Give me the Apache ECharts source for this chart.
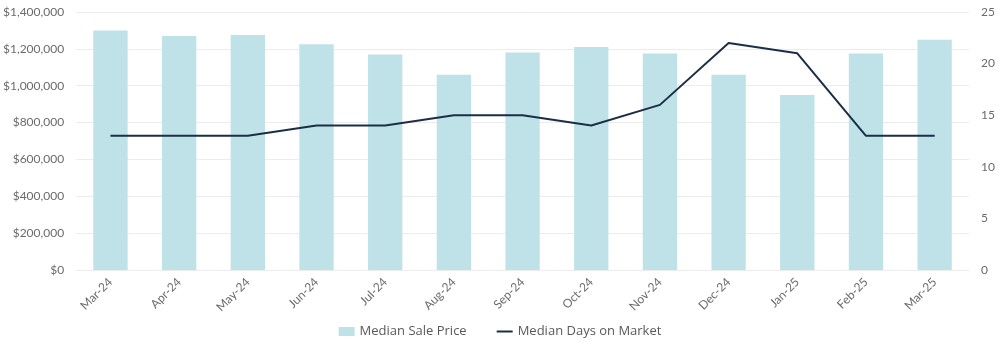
<!DOCTYPE html>
<html>
<head>
<meta charset="utf-8">
<script src="https://cdn.jsdelivr.net/npm/echarts@6/dist/echarts.min.js"></script>
<style>html,body{margin:0;padding:0;background:#fff}#c{width:1000px;height:349px}</style>
</head>
<body>
<div id="c"></div>
<script>
const categories = ['Mar-24','Apr-24','May-24','Jun-24','Jul-24','Aug-24','Sep-24','Oct-24','Nov-24','Dec-24','Jan-25','Feb-25','Mar-25'];
const medianSalePrice = [1300000,1270000,1275000,1225000,1170000,1060000,1180000,1210000,1175000,1060000,950000,1175000,1250000];
const medianDaysOnMarket = [13,13,13,14,14,15,15,14,16,22,21,13,13];

const chart = echarts.init(document.getElementById('c'));
const lblColor = '#6b6b6b';
chart.setOption({
  animation: false,
  textStyle: { fontFamily: 'Lato' },
  grid: { left: 76, right: 31, top: 12, bottom: 79 },
  legend: {
    bottom: 6, left: 'center', itemGap: 30, itemWidth: 16, itemHeight: 9,
    symbolKeepAspect: true,
    textStyle: { color: '#595959', fontSize: 13, fontFamily: 'Open Sans' },
    data: [
      { name: 'Median Sale Price', icon: 'rect' },
      { name: 'Median Days on Market', icon: 'path://M0,0h16v2h-16z' }
    ]
  },
  xAxis: {
    type: 'category', data: categories,
    axisLine: { show: true, lineStyle: { color: '#ececec' } },
    axisTick: { show: false },
    axisLabel: { rotate: 45, color: lblColor, fontSize: 12, margin: 10 }
  },
  yAxis: [
    {
      type: 'value', min: 0, max: 1400000, interval: 200000,
      axisLine: { show: false }, axisTick: { show: false },
      splitLine: { lineStyle: { color: '#ececec' } },
      axisLabel: { color: lblColor, fontSize: 12, margin: 12,
        formatter: v => '$' + v.toLocaleString('en-US') }
    },
    {
      type: 'value', min: 0, max: 25, interval: 5,
      axisLine: { show: false }, axisTick: { show: false },
      splitLine: { show: false },
      axisLabel: { color: lblColor, fontSize: 12, margin: 12 }
    }
  ],
  series: [
    {
      name: 'Median Sale Price', type: 'bar', data: medianSalePrice,
      barWidth: '50%', itemStyle: { color: '#bfe2e8' }
    },
    {
      name: 'Median Days on Market', type: 'line', yAxisIndex: 1, data: medianDaysOnMarket,
      symbol: 'none', lineStyle: { color: '#1b2e45', width: 2 }, itemStyle: { color: '#1b2e45' }
    }
  ]
});
</script>
</body>
</html>
